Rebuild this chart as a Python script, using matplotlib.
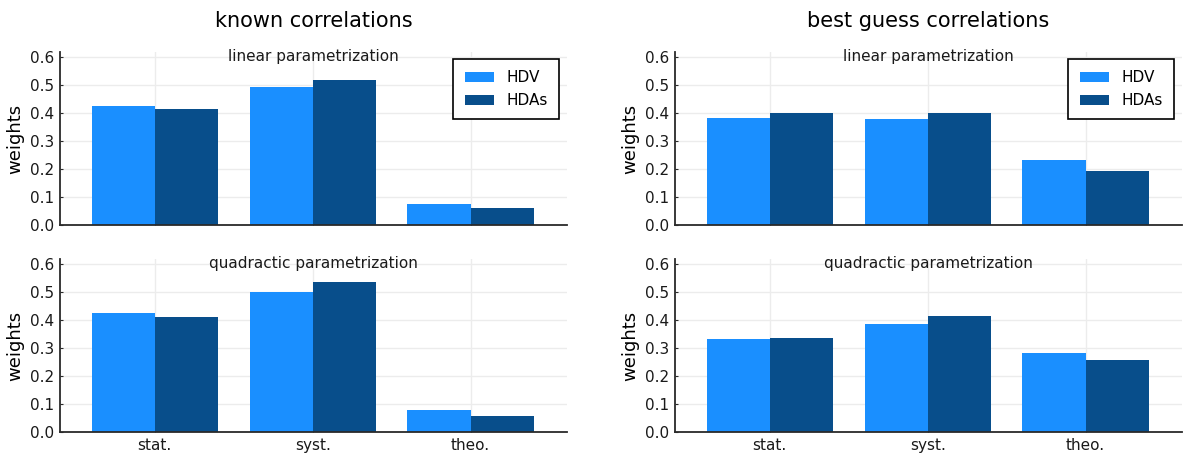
import numpy as np
import matplotlib
matplotlib.use("Agg")
import matplotlib.pyplot as plt

categories = ["stat.", "syst.", "theo."]
series_names = ["HDV", "HDAs"]

known_linear_hdv = [0.426, 0.494, 0.076]
known_linear_hdas = [0.415, 0.519, 0.062]
known_quad_hdv = [0.425, 0.500, 0.078]
known_quad_hdas = [0.410, 0.536, 0.056]

guess_linear_hdv = [0.383, 0.380, 0.233]
guess_linear_hdas = [0.401, 0.401, 0.194]
guess_quad_hdv = [0.332, 0.385, 0.282]
guess_quad_hdas = [0.335, 0.414, 0.257]

yticks = [0.0, 0.1, 0.2, 0.3, 0.4, 0.5, 0.6]
colors = ["#1A8FFF", "#084E8B"]

W, H = 1186, 454
fig = plt.figure(figsize=(W / 100, H / 100), dpi=100)


def box(x0, y0, x1, y1):
    return [x0 / W, 1 - y1 / H, (x1 - x0) / W, (y1 - y0) / H]


def panel(rect, hdv, hdas, subtitle, legend, xlabels):
    ax = fig.add_axes(rect)
    x = np.arange(len(categories))
    ax.bar(x - 0.2, hdv, width=0.4, color=colors[0], label=series_names[0], zorder=2)
    ax.bar(x + 0.2, hdas, width=0.4, color=colors[1], label=series_names[1], zorder=2)
    ax.set_xlim(-0.6, 2.61)
    ax.set_ylim(0, 0.618)
    ax.set_yticks(yticks)
    ax.set_yticklabels([f"{t:.1f}" for t in yticks])
    ax.set_xticks(x)
    ax.set_xticklabels(categories if xlabels else [])
    ax.grid(True, color="#ececec", linewidth=1, zorder=0)
    for s in ["top", "right"]:
        ax.spines[s].set_visible(False)
    for s in ["left", "bottom"]:
        ax.spines[s].set_color("#2a2a2a")
        ax.spines[s].set_linewidth(1.3)
    ax.tick_params(direction="in", length=2, color="#2a2a2a", labelsize=11,
                   labelcolor="#1a1a1a", pad=4)
    ax.set_ylabel("weights", fontsize=13, labelpad=4)
    ax.text(0.5, 0.975, subtitle, transform=ax.transAxes, ha="center", va="center",
            fontsize=11, color="#1a1a1a")
    if legend:
        leg = ax.legend(loc="upper right", bbox_to_anchor=(0.984, 0.96), fontsize=11,
                        fancybox=False, edgecolor="black", framealpha=1,
                        handlelength=1.9, handleheight=0.65, handletextpad=0.8,
                        borderpad=0.75, labelspacing=0.5, borderaxespad=0)
        leg.get_frame().set_linewidth(1.2)
    return ax


ax = panel(box(60, 52, 567, 225), known_linear_hdv, known_linear_hdas,
           "linear parametrization", True, False)
ax.set_title("known correlations", fontsize=15, pad=18)
panel(box(60, 259, 567, 432), known_quad_hdv, known_quad_hdas,
      "quadractic parametrization", False, True)
ax = panel(box(675, 52, 1182, 225), guess_linear_hdv, guess_linear_hdas,
           "linear parametrization", True, False)
ax.set_title("best guess correlations", fontsize=15, pad=18)
panel(box(675, 259, 1182, 432), guess_quad_hdv, guess_quad_hdas,
      "quadractic parametrization", False, True)

fig.savefig("out.png", dpi=100)
